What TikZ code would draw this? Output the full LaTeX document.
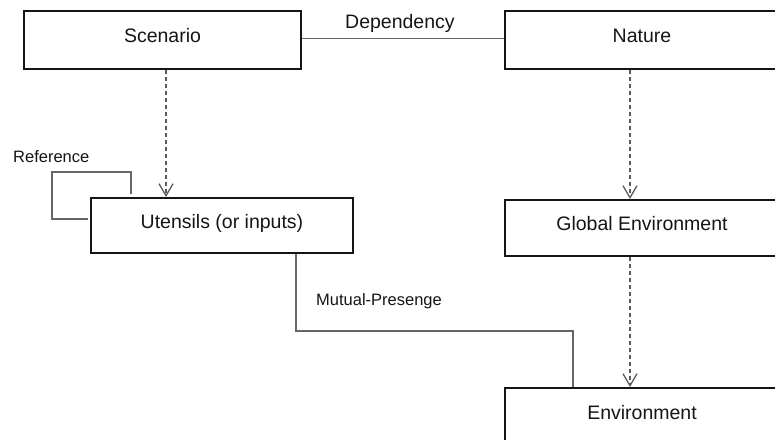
\documentclass[tikz,border=0pt]{standalone}
\usepackage{fontspec}
\setmainfont{Liberation Sans}
\usetikzlibrary{arrows.meta}
\definecolor{linegray}{HTML}{666666}
\definecolor{dashgray}{HTML}{5A5A5A}
\definecolor{inkblack}{HTML}{151515}
\begin{document}
\begin{tikzpicture}[x=1pt,y=-1pt,
  box/.style={draw=inkblack, line width=2pt, rectangle, inner sep=0pt,
    text=inkblack, font=\fontsize{19.5}{23}\selectfont,
    text height=12pt, text depth=6.5pt},
  tag/.style={inner sep=0pt, anchor=base west, text=inkblack,
    font=\fontsize{16.5}{20}\selectfont},
  conn/.style={draw=linegray, line width=1.4pt},
  dep/.style={draw=dashgray, line width=1.4pt, dash pattern=on 4pt off 3pt,
    -{Straight Barb[length=12pt,width=14pt,line width=1.3pt]}}]
\useasboundingbox (0,0) rectangle (775,439);
\clip (0,0) rectangle (775,439);

% classes
\node[box, minimum width=277pt, minimum height=58pt] (scen) at (162.5,40) {Scenario};
\node[box, minimum width=274pt, minimum height=58pt] (nat) at (642,40) {Nature};
\node[box, minimum width=262pt, minimum height=55pt] (uten) at (222,225.5) {Utensils (or inputs)};
\node[box, minimum width=274pt, minimum height=56pt] (glob) at (642,228) {Global Environment};
\node[box, minimum width=274pt, minimum height=57pt] (env) at (642,416.5) {Environment};

% guide coordinates for the connectors
\coordinate (sx) at (166,0);
\coordinate (nx) at (630,0);
\coordinate (mx) at (296,0);
\coordinate (my) at (0,331);
\coordinate (ex) at (573,0);
\coordinate (refA) at (88,219);
\coordinate (refC) at (52,172);
\coordinate (refB) at (131,194);

% dependency between scenario and nature
\draw[conn] ([yshift=1.5pt]scen.east) -- ([yshift=1.5pt]nat.west);
\node[tag] (deplbl) at (345,28.3) {\fontsize{19.5}{23}\selectfont Dependency};

% dashed realisations
\draw[dep] (scen.south -| sx) -- (uten.north -| sx);
\draw[dep] (nat.south -| nx) -- (glob.north -| nx);
\draw[dep] (glob.south -| nx) -- (env.north -| nx);

% self reference on utensils
\draw[conn] (refA) -| (refC) -| (refB);
\node[tag] (reflbl) at (13,162.5) {Reference};

% mutual presence between utensils and environment
\draw[conn] (uten.south -| mx) |- (ex |- my) -- (env.north -| ex);
\node[tag] (mutlbl) at (316,305) {Mutual-Presenge};
\end{tikzpicture}
\end{document}
